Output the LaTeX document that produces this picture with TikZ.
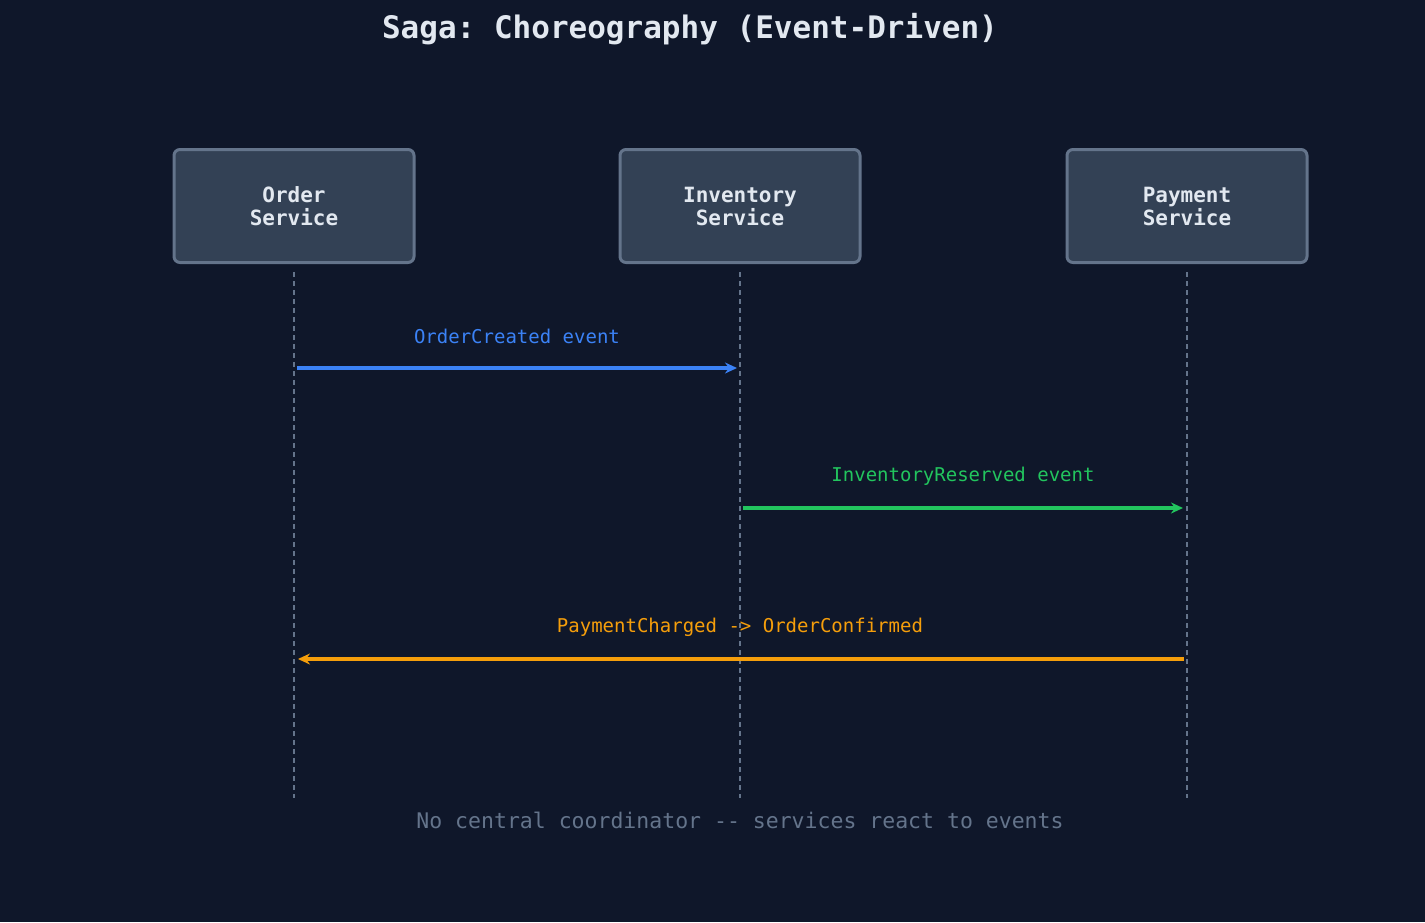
\documentclass[tikz,border=0pt]{standalone}
\usepackage{fontspec}
\setmonofont{DejaVu Sans Mono}
\usetikzlibrary{arrows.meta}
\definecolor{bg}{HTML}{0F172A}
\definecolor{boxfill}{HTML}{334155}
\definecolor{boxline}{HTML}{64748B}
\definecolor{txt}{HTML}{E2E8F0}
\definecolor{cblue}{HTML}{3B82F6}
\definecolor{cgreen}{HTML}{22C55E}
\definecolor{corange}{HTML}{F59E0B}
\begin{document}
\begin{tikzpicture}[x=1pt,y=-1pt,
  svc/.style={draw=boxline,fill=boxfill,line width=3pt,rounded corners=6pt,minimum width=240pt,minimum height=113pt,align=center,font=\ttfamily\bfseries\fontsize{21}{23}\selectfont,text=txt},
  life/.style={draw=boxline,line width=1.5pt,dash pattern=on 5pt off 4pt},
  msg/.style={line width=4pt,-{Stealth[length=12pt,width=11pt]}},
  lbl/.style={font=\ttfamily\fontsize{19}{22}\selectfont}]
\fill[bg] (0,0) rectangle (1425,922);
\useasboundingbox (0,0) rectangle (1425,922);
\node[font=\ttfamily\bfseries\fontsize{31}{36}\selectfont,text=txt] (title) at (690,29) {Saga: Choreography (Event-Driven)};
\node[svc] (order) at (294,206) {Order\\Service};
\node[svc] (inv) at (740,206) {Inventory\\Service};
\node[svc] (pay) at (1187,206) {Payment\\Service};
\coordinate (oe) at (294,798); \coordinate (ie) at (740,798); \coordinate (pe) at (1187,798);
\draw[life] (294,272) -- (oe);
\draw[life] (740,272) -- (ie);
\draw[life] (1187,272) -- (pe);
\coordinate (a1) at (297,368); \coordinate (b1) at (737,368);
\coordinate (a2) at (743,508); \coordinate (b2) at (1183,508);
\coordinate (a3) at (1184,659); \coordinate (b3) at (298,659);
\draw[msg,cblue] (a1) -- (b1);
\draw[msg,cgreen] (a2) -- (b2);
\draw[msg,corange] (a3) -- (b3);
\node[lbl,text=cblue] (l1) at (517,336) {OrderCreated event};
\node[lbl,text=cgreen] (l2) at (963,476) {InventoryReserved event};
\node[lbl,text=corange] (l3) at (740,627) {PaymentCharged -> OrderConfirmed};
\node[font=\ttfamily\fontsize{21.5}{24}\selectfont,text=boxline] (foot) at (740,820) {No central coordinator -- services react to events};
\end{tikzpicture}
\end{document}
